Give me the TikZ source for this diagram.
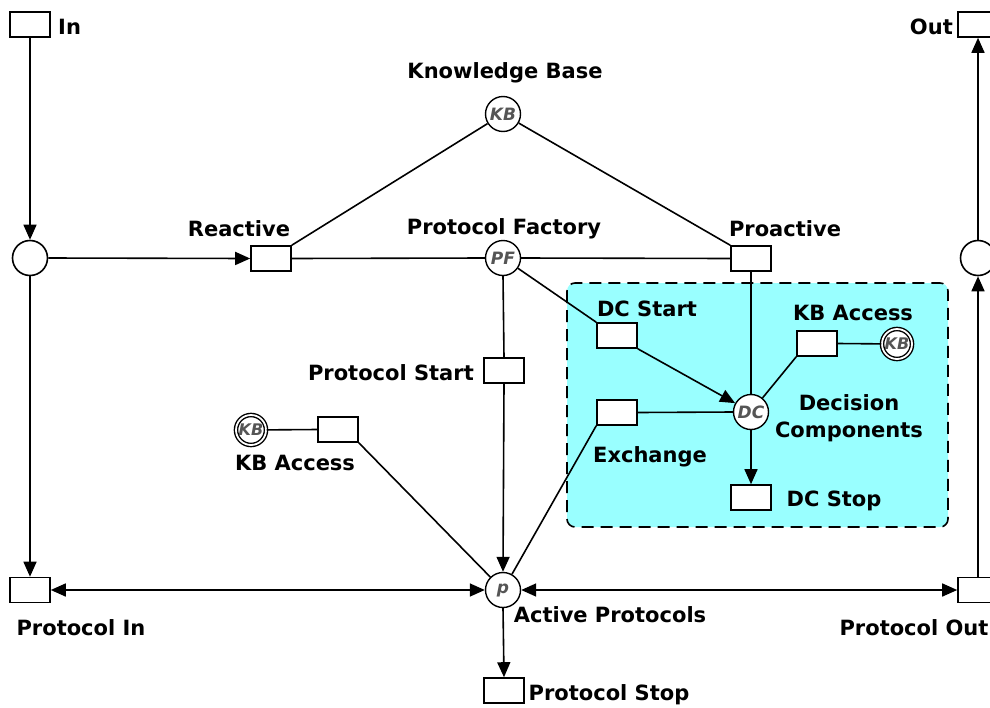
\documentclass[tikz,border=0pt]{standalone}
\usepackage{fontspec}
\setmainfont{DejaVu Sans}
\usetikzlibrary{arrows.meta}
\definecolor{boxcyan}{RGB}{153,255,255}
\definecolor{tokgray}{RGB}{85,85,85}
\tikzset{
  trans/.style={draw, line width=1.6pt, fill=white, minimum width=40pt, minimum height=25pt, inner sep=0pt},
  place/.style={circle, draw, line width=1.6pt, fill=white, minimum size=35pt, inner sep=0pt},
  tok/.style={circle, draw, line width=1.4pt, fill=white, minimum size=35pt, inner sep=0pt,
    font=\fontsize{17}{17}\selectfont\bfseries\itshape, text=tokgray},
  dtok/.style={tok, double, double distance=1.8pt, minimum size=30pt, font=\fontsize{16}{16}\selectfont\bfseries\itshape},
  lbl/.style={font=\fontsize{21}{21}\selectfont\bfseries, inner sep=0pt},
  conn/.style={line width=1.6pt},
  arr/.style={conn, -{Triangle[length=15pt,width=13pt]}},
  darr/.style={conn, {Triangle[length=15pt,width=13pt]}-{Triangle[length=15pt,width=13pt]}},
  group/.style={draw, dashed, dash pattern=on 12pt off 7pt, line width=1.6pt, fill=boxcyan, rounded corners=8pt}
}
\begin{document}
\begin{tikzpicture}[x=1pt,y=-1pt]
\useasboundingbox (0,0) rectangle (990,707);
\fill[white] (0,0) rectangle (990,707);

% decision components group
\draw[group] (567,283) rectangle (948,527);

% transitions and places
\node[trans] (in) at (30,24.5) {};
\node[place] (pl) at (30,258) {};
\node[trans] (reactive) at (271,258.5) {};
\node[tok] (kb) at (503,114) {KB};
\node[tok] (pf) at (503,258) {PF};
\node[trans] (proactive) at (751,258.5) {};
\node[trans] (pstart) at (504,370.5) {};
\node[trans] (dcstart) at (617,335.5) {};
\node[trans] (kbacc2) at (817,343.5) {};
\node[dtok] (kb2) at (897,344) {KB};
\node[tok] (dc) at (751,412) {DC};
\node[trans] (exch) at (617,412.5) {};
\node[trans] (dcstop) at (751,497.5) {};
\node[dtok] (kb1) at (251,430) {KB};
\node[trans] (kbacc1) at (338,429.5) {};
\node[tok] (p) at (503,590) {p};
\node[trans] (pstop) at (504,690.5) {};
\node[trans] (pin) at (30,590) {};
\node[trans] (pout) at (978,590) {};
\node[place] (pr) at (978,258) {};
\node[trans] (out) at (978,24.5) {};

% connectors
\draw[arr] (in.south) -- (pl.north);
\draw[arr] (pl.east) -- (reactive.west);
\draw[conn] (reactive.east) -- (pf.west);
\draw[conn] (pf.east) -- (proactive.west);
\draw[conn] (reactive.north east) -- (kb);
\draw[conn] (kb) -- (proactive.north west);
\draw[conn] (pf.south) -- (pstart.north);
\draw[arr] (pstart.south) -- (p.north);
\draw[conn] (pf) -- (dcstart.north west);
\draw[arr] (dcstart.south east) -- (dc);
\draw[conn] (proactive.south) -- (dc.north);
\draw[conn] (kbacc2.east) -- (kb2);
\draw[conn] (kbacc2.south west) -- (dc);
\draw[conn] (exch.east) -- (dc.west);
\draw[conn] (exch.south west) -- (p);
\draw[arr] (dc.south) -- (dcstop.north);
\draw[conn] (kb1) -- (kbacc1.west);
\draw[conn] (kbacc1.south east) -- (p);
\draw[arr] (p.south) -- (pstop.north);
\draw[arr] (pl.south) -- (pin.north);
\draw[darr] (pin.east) -- (p.west);
\draw[darr] (p.east) -- (pout.west);
\draw[arr] (pout.north) -- (pr.south);
\draw[arr] (pr.north) -- (out.south);

% labels
\node[lbl, anchor=west] at (58,27) {In};
\node[lbl, anchor=east] at (953,27) {Out};
\node[lbl] at (505,73) {Knowledge Base};
\node[lbl] at (239,229) {Reactive};
\node[lbl] at (504,229) {Protocol Factory};
\node[lbl] at (785,229) {Proactive};
\node[lbl] at (647,309) {DC Start};
\node[lbl] at (853,313) {KB Access};
\node[lbl, anchor=east] at (474,373) {Protocol Start};
\node[lbl, align=center] at (849,418) {Decision\\[6pt]Components};
\node[lbl] at (295,463) {KB Access};
\node[lbl] at (650,457) {Exchange};
\node[lbl] at (834,501) {DC Stop};
\node[lbl] at (81,628) {Protocol In};
\node[lbl] at (610,615) {Active Protocols};
\node[lbl] at (914,628) {Protocol Out};
\node[lbl] at (609,695) {Protocol Stop};
\end{tikzpicture}
\end{document}
